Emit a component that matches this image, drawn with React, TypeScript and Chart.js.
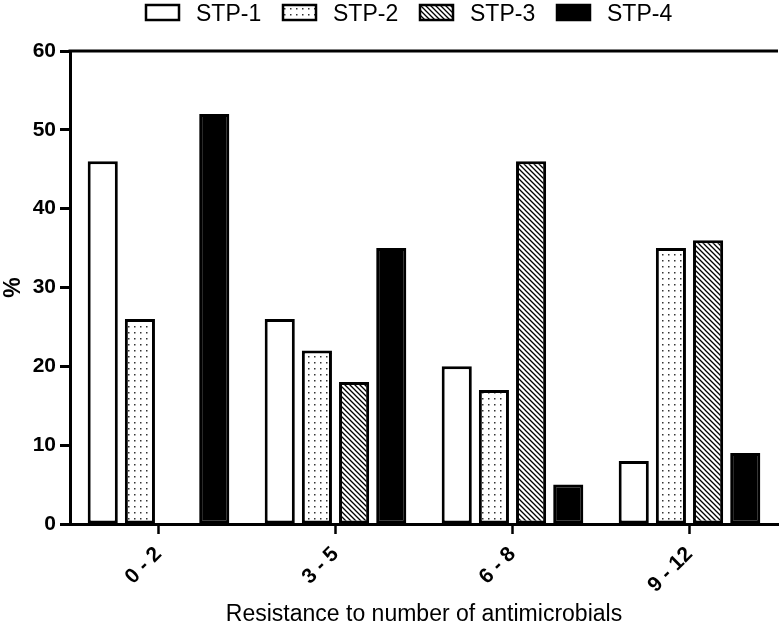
import React, { useEffect, useRef } from "react";
import { Chart, registerables } from "chart.js";

Chart.register(...registerables);

const categories = ["0 - 2", "3 - 5", "6 - 8", "9 - 12"];
const seriesNames = ["STP-1", "STP-2", "STP-3", "STP-4"];
const stp1 = [46, 26, 20, 8];
const stp2 = [26, 22, 17, 35];
const stp3 = [0, 18, 46, 36];
const stp4 = [52, 35, 5, 9];

const FAMILY = '"Liberation Sans", Arial, sans-serif';

function makeDots(): CanvasPattern | string {
  const c = document.createElement("canvas");
  c.width = 6;
  c.height = 6;
  const g = c.getContext("2d");
  if (!g) return "#fff";
  g.fillStyle = "#fff";
  g.fillRect(0, 0, 6, 6);
  g.fillStyle = "#333";
  g.fillRect(2, 2, 1.5, 1.5);
  return g.createPattern(c, "repeat") || "#fff";
}

function makeHatch(): CanvasPattern | string {
  const c = document.createElement("canvas");
  c.width = 5;
  c.height = 5;
  const g = c.getContext("2d");
  if (!g) return "#fff";
  g.fillStyle = "#fff";
  g.fillRect(0, 0, 5, 5);
  g.strokeStyle = "#000";
  g.lineWidth = 1.3;
  g.beginPath();
  g.moveTo(-1, -1);
  g.lineTo(6, 6);
  g.moveTo(-1, 4);
  g.lineTo(1, 6);
  g.moveTo(4, -1);
  g.lineTo(6, 1);
  g.stroke();
  return g.createPattern(c, "repeat") || "#fff";
}

export default function App() {
  const ref = useRef<HTMLCanvasElement | null>(null);

  useEffect(() => {
    document.body.style.margin = "0";
    const canvas = ref.current;
    if (!canvas) return;
    const fills = ["#ffffff", makeDots(), makeHatch(), "#000000"];
    const values = [stp1, stp2, stp3, stp4];

    const topLine = {
      id: "topLine",
      afterDraw(chart: any) {
        const { ctx, chartArea } = chart;
        ctx.save();
        ctx.strokeStyle = "#000";
        ctx.lineWidth = 3;
        ctx.beginPath();
        ctx.moveTo(chartArea.left - 1.5, chartArea.top);
        ctx.lineTo(chartArea.right, chartArea.top);
        ctx.stroke();
        ctx.restore();
      },
    };

    const legendPlugin = {
      id: "customLegend",
      afterDraw(chart: any) {
        const ctx = chart.ctx;
        ctx.save();
        ctx.font = `23px ${FAMILY}`;
        ctx.textBaseline = "alphabetic";
        ctx.textAlign = "left";
        const startX = 146;
        const step = 137;
        chart.data.datasets.forEach((ds: any, i: number) => {
          const bx = startX + i * step;
          ctx.fillStyle = ds.backgroundColor;
          ctx.fillRect(bx, 5, 33, 15);
          ctx.strokeStyle = "#000";
          ctx.lineWidth = 2.5;
          ctx.strokeRect(bx, 5, 33, 15);
          ctx.fillStyle = "#000";
          ctx.fillText(ds.label, bx + 50, 21);
        });
        ctx.restore();
      },
    };

    const chart = new Chart(canvas, {
      type: "bar",
      data: {
        labels: categories,
        datasets: seriesNames.map((name, i) => ({
          label: name,
          data: values[i],
          backgroundColor: fills[i] as any,
          borderColor: "#000",
          borderWidth: 3,
          borderSkipped: false,
          categoryPercentage: 0.84,
          barPercentage: 0.81,
        })),
      },
      options: {
        responsive: false,
        animation: false,
        devicePixelRatio: 1,
        layout: { padding: { top: 51, right: 2, left: 0, bottom: 0 } },
        plugins: {
          legend: { display: false },
          tooltip: { enabled: false },
        },
        scales: {
          x: {
            offset: true,
            grid: {
              display: true,
              drawOnChartArea: false,
              drawTicks: true,
              tickLength: 10,
              tickWidth: 2.5,
              tickColor: "#000",
              offset: false,
            },
            border: { display: true, color: "#000", width: 3 },
            ticks: {
              color: "#000",
              font: { family: FAMILY, size: 21, weight: "bold" },
              maxRotation: 45,
              minRotation: 45,
              padding: 8,
            },
            title: {
              display: true,
              text: "Resistance to number of antimicrobials",
              color: "#000",
              font: { family: FAMILY, size: 23 },
              padding: { top: 0, bottom: -2 },
            },
            afterFit: (s: any) => {
              s.height = 102;
            },
          },
          y: {
            min: 0,
            max: 60,
            ticks: {
              stepSize: 10,
              color: "#000",
              font: { family: FAMILY, size: 21, weight: "bold" },
              padding: 4,
            },
            grid: {
              drawOnChartArea: false,
              drawTicks: true,
              tickLength: 10,
              tickWidth: 3,
              tickColor: "#000",
            },
            border: { display: true, color: "#000", width: 3 },
            title: {
              display: true,
              text: "%",
              color: "#000",
              font: { family: FAMILY, size: 23, weight: "bold" },
              padding: 0,
            },
            afterFit: (s: any) => {
              s.width = 70;
            },
          },
        },
      },
      plugins: [topLine, legendPlugin],
    });

    return () => chart.destroy();
  }, []);

  return (
    <div style={{ width: 780, height: 626 }}>
      <canvas ref={ref} width={780} height={626} />
    </div>
  );
}
